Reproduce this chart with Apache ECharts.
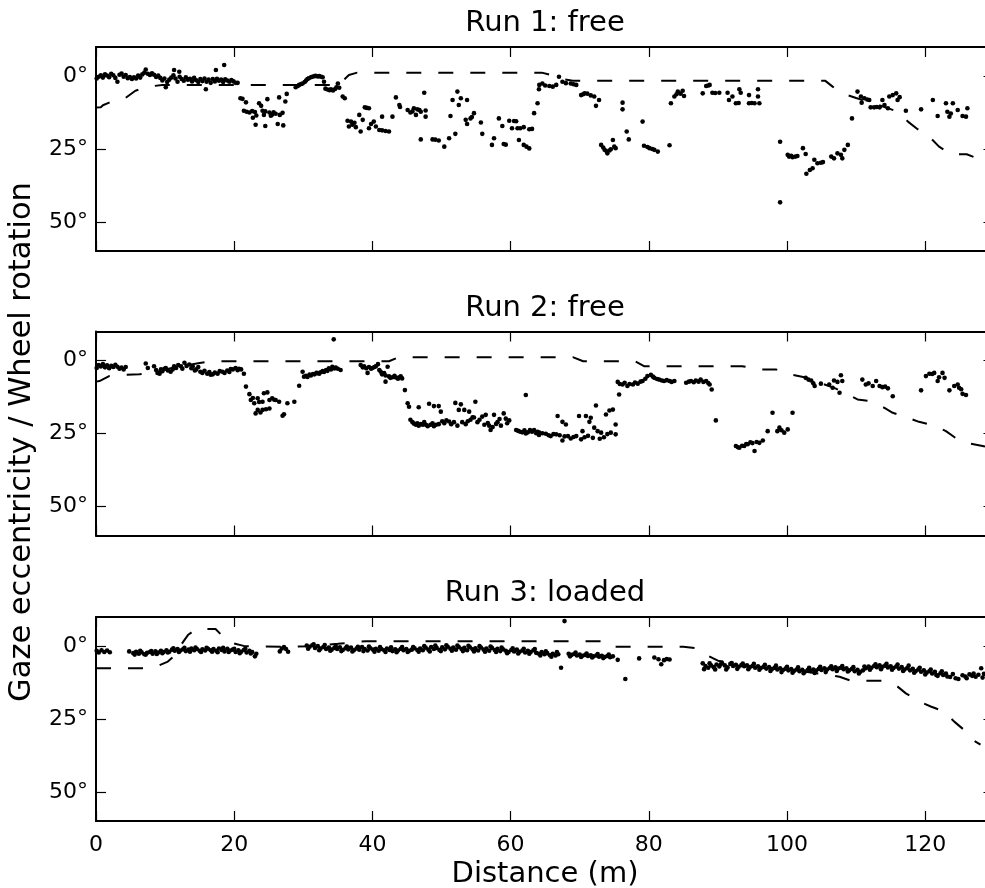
<!DOCTYPE html>
<html>
<head>
<meta charset="utf-8">
<script src="https://cdn.jsdelivr.net/npm/echarts/dist/echarts.min.js"></script>
<style>html,body{margin:0;padding:0;background:#fff;}#c{width:985px;height:888px;}</style>
</head>
<body>
<div id="c"></div>
<script>
const xTicks = [0, 20, 40, 60, 80, 100, 120];
const yTicks = [0, 25, 50];
const titles = ['Run 1: free', 'Run 2: free', 'Run 3: loaded'];
const xLabel = 'Distance (m)';
const yLabel = 'Gaze eccentricity / Wheel rotation';

// Run 1 gaze eccentricity (deg)
const gaze1 = [
[0.1,0.8],[0.4,0.2],[0.7,-0.3],[1.0,0.5],[1.3,-0.6],[1.6,-0.2],[1.9,0.4],[2.2,-0.8],[2.5,-0.3],[2.8,0.6],[3.1,1.9],[3.4,-0.5],[3.7,-0.9],[4.0,0.2],[4.3,-0.4],[4.6,0.7],[4.9,0.3],[5.2,1.0],[5.5,0.4],[5.8,0.8],[6.1,-0.2],[6.4,0.5],[6.7,-0.6],[7.0,-1.2],[7.2,-2.3],[7.5,-0.8],[7.8,-0.4],[8.1,-1.0],[8.4,-0.5],[8.7,0.3],[9.0,-0.2],[9.3,0.6],[9.6,1.5],[9.9,0.8],[10.1,3.8],[10.3,2.0],[10.6,1.2],[10.9,0.5],[11.2,-0.3],[11.3,-2.1],[11.5,0.8],[11.8,1.9],[12.05,-1.5],[12.1,0.2],[12.4,1.0],[12.7,1.6],[13.0,0.4],[13.3,1.2],[13.6,0.9],[13.9,1.8],[14.2,0.6],[14.5,1.4],[14.8,2.0],[15.1,1.0],[15.4,1.7],[15.7,0.8],[15.9,4.5],[16.0,1.9],[16.3,1.2],[16.6,2.3],[16.9,1.0],[17.2,1.8],[17.35,-2.1],[17.5,0.9],[17.8,1.6],[18.1,1.2],[18.4,2.0],[18.55,-3.8],[18.7,1.1],[19.0,1.5],[19.3,1.9],[19.6,1.3],[19.9,1.8],[20.2,2.3],[20.5,2.3],
[20.9,7.6],[21.2,7.8],[21.7,9.0],[21.4,11.9],[21.8,12.2],[22.2,12.5],[22.6,12.0],[23.0,12.3],[23.1,16.7],[23.6,9.3],[23.9,10.2],[24.1,11.9],[24.5,12.1],[24.5,17.1],[24.8,7.9],[25.1,12.5],[25.5,13.2],[25.7,12.4],[26.0,12.9],[26.3,16.4],[26.5,7.3],[26.6,13.3],[27.1,16.9],[27.0,12.6],[27.4,8.7],[27.6,6.1],[23.2,13.5],[24.3,13.3],[25.3,13.6],[22.7,14.3],
[28.9,3.8],[29.2,3.4],[29.4,3.0],[29.7,2.7],[29.9,2.5],[30.2,2.0],[30.4,1.5],[30.6,1.0],[30.8,0.7],[31.1,0.4],[31.3,0.2],[31.6,0.0],[31.8,-0.1],[32.1,0.1],[32.3,0.0],[32.6,0.2],[32.8,0.4],[33.0,1.9],[33.2,4.3],[33.5,4.6],[33.8,4.8],[34.0,4.5],[34.3,4.9],[34.6,4.4],[34.8,3.8],[35.0,2.5],[35.2,4.0],[35.7,7.0],[36.0,7.6],
[36.4,15.3],[36.6,17.3],[36.9,15.6],[37.1,16.7],[37.4,16.0],[37.6,17.5],[38.1,13.3],[38.3,19.0],[38.6,15.0],[38.9,10.7],[39.2,10.9],[39.5,11.0],[39.5,17.9],[39.8,16.4],[40.2,15.6],[40.5,17.3],[41.0,18.5],[41.4,18.6],[41.4,13.9],[41.9,18.8],[42.4,19.0],[42.9,13.9],[43.4,7.3],[43.9,9.9],[44.0,10.6],
[45.1,11.6],[45.5,12.5],[45.8,12.1],[46.0,11.0],[46.3,13.3],[46.5,11.4],[46.8,11.6],[47.0,12.2],[47.5,5.7],[47.7,11.8],[47.7,13.9],[47.0,21.7],[48.7,21.7],[49.1,21.8],[49.6,22.1],[50.4,24.2],[51.1,21.3],[52.0,19.8],[51.3,13.7],[51.6,8.2],[52.3,5.3],[52.5,9.9],[52.8,7.6],[53.7,8.2],[53.5,15.0],[53.7,16.4],[54.2,14.5],[54.4,14.0],[54.7,12.7],[55.7,15.9],[55.9,19.8],[57.3,23.6],[57.6,21.3],[58.3,14.5],[58.8,17.1],[59.0,23.3],[59.3,23.5],[59.8,15.3],[60.2,17.9],[60.5,15.4],[60.8,15.5],[61.0,17.9],[61.2,21.9],[61.4,17.9],[61.9,17.5],[61.9,23.6],[62.3,24.2],[62.7,18.2],[62.7,24.8],[63.1,18.1],[63.4,12.7],[63.9,9.3],[64.1,4.5],
[64.15,3.0],[64.6,2.5],[65.0,3.2],[65.6,3.4],[66.1,3.6],[66.6,3.0],[67.0,0.2],[67.5,1.9],[68.0,2.4],[68.7,2.5],[69.1,2.8],[69.5,3.0],[70.2,6.5],[70.5,6.2],[70.7,5.9],[71.1,6.0],[71.6,6.6],[72.1,7.0],[72.35,10.2],[72.8,8.2],[76.2,9.1],[76.2,11.4],
[73.1,23.6],[73.4,24.5],[73.6,25.3],[73.9,25.8],[74.0,26.5],[74.3,25.5],[74.5,25.1],[74.8,21.9],[75.0,24.2],[75.2,24.7],
[76.8,19.0],[77.1,21.7],[79.1,15.6],[79.3,23.9],[79.8,24.3],[80.1,24.7],[80.5,25.0],[80.8,25.3],[81.3,25.9],[83.0,23.7],
[83.2,9.3],[83.7,7.0],[84.0,6.2],[84.2,5.3],[84.6,6.0],[84.9,5.0],[85.1,6.8],
[87.8,5.9],[88.3,3.4],[88.6,3.2],[88.8,3.0],[89.2,5.7],[89.6,5.8],[90.2,5.7],[91.4,5.7],[91.6,8.2],[92.1,7.0],[92.6,9.3],[93.0,9.2],[93.1,4.5],[93.3,5.7],[94.5,6.5],[94.5,9.3],[94.9,9.2],[95.3,9.3],[95.8,4.5],[95.8,7.0],[96.0,9.3],
[99.0,22.5],[99.0,43.3],[100.1,27.0],[100.3,27.6],[100.6,27.3],[100.8,27.8],[101.2,27.6],[101.5,27.4],[102.3,24.7],[102.7,26.7],[102.8,33.5],[103.3,32.2],[103.7,31.6],[103.95,28.7],[104.4,29.9],[104.9,29.7],[105.2,29.5],[106.4,27.6],[106.8,28.2],[107.3,26.5],[107.8,27.0],[108.0,28.2],[108.3,25.3],[108.8,23.6],
[109.4,14.5],[110.2,5.3],[110.7,7.0],[110.8,9.1],[111.2,7.6],[111.6,8.0],[111.9,8.2],[112.1,10.7],[112.6,10.7],[113.0,10.6],[113.4,10.7],[113.8,8.2],[114.1,9.9],[114.6,11.0],[114.8,7.0],[115.3,6.5],[115.8,5.9],[116.0,8.2],[116.3,7.2],[117.2,11.9],[119.4,11.4],[121.1,8.2],[121.8,13.7],[123.0,9.3],[123.2,12.2],[123.5,13.9],[123.7,12.8],[124.0,9.3],[124.7,11.6],[125.4,13.7],[125.9,13.9],[126.1,11.0]
];
// Run 1 wheel rotation (deg)
const wheel1 = [[0,10.8],[0.7,10.7],[1.0,10.0],[1.9,9.1],[3.0,8.6],[4.2,7.6],[5.7,5.0],[7.0,4.0],[7.7,3.6],[9.6,3.0],[35.2,3.0],[36.0,1.0],[36.6,-0.4],[37.8,-1.2],[64.5,-1.2],[66.0,-0.3],[67.5,1.0],[69.0,1.55],[105.5,1.55],[106.6,3.6],[108.0,5.9],[110.0,7.5],[112.0,9.0],[114.0,10.5],[116.0,12.2],[117.5,15.6],[118.9,18.2],[120.8,21.3],[122.0,24.2],[123.8,26.8],[126.0,26.8],[127.3,28.0],[128.65,28.3]];

// Run 2 gaze eccentricity (deg)
const gaze2 = [
[0.1,2.5],[0.4,1.5],[0.7,2.0],[1.0,1.2],[1.3,2.3],[1.6,1.6],[1.9,2.6],[2.2,1.8],[2.5,2.2],[2.8,1.4],[3.1,2.1],[3.4,2.8],[3.7,2.4],[4.0,3.0],[4.3,2.2],[7.2,1.0],[7.5,2.5],[8.4,1.9],[8.7,3.2],[8.9,4.2],[9.2,4.5],[9.4,3.0],[9.6,3.6],[9.9,2.8],[10.1,2.5],[10.4,3.4],[10.8,3.8],[11.1,3.0],[11.3,1.9],[11.6,2.5],[11.9,1.5],[12.3,1.9],[12.5,2.8],[12.8,0.7],[13.1,1.8],[13.5,1.3],[13.8,2.6],[14.0,1.9],[14.3,3.4],[14.5,3.0],[14.8,2.2],[15.1,3.8],[15.4,4.2],[15.7,3.5],[16.1,4.5],[16.4,3.9],[16.6,4.8],[16.9,4.7],[17.2,4.1],[17.6,4.5],[17.9,3.6],[18.3,3.8],[18.6,4.2],[19.0,3.4],[19.3,3.9],[19.5,2.9],[19.8,3.0],[20.2,2.5],[20.5,3.3],[20.7,2.8],[21.0,3.0],[21.4,4.5],
[21.7,8.9],[22.2,11.5],[22.4,13.5],[22.7,12.8],[22.9,14.6],[23.1,18.1],[23.4,12.9],[23.4,16.9],[23.6,14.2],[23.8,17.8],[24.1,14.1],[24.1,16.9],[24.3,11.2],[24.6,16.7],[24.8,10.9],[25.1,13.5],[25.1,16.4],[25.5,12.9],[25.8,13.4],[26.0,13.5],[26.5,14.1],[27.0,18.9],[27.2,18.4],[27.7,14.6],[28.7,14.1],[29.4,8.6],
[29.9,3.8],[30.1,5.5],[30.4,5.2],[30.6,5.6],[30.9,4.8],[31.1,5.1],[31.4,4.6],[31.6,4.7],[31.9,4.2],[32.0,4.3],[32.3,4.5],[32.5,4.0],[32.8,3.6],[33.0,3.9],[33.3,3.2],[33.5,3.5],[33.7,2.6],[34.0,3.0],[34.2,2.1],[34.4,-7.3],[34.5,2.7],[34.7,2.4],[35.0,2.8],[35.4,3.2],
[38.3,1.5],[38.6,2.3],[38.8,1.9],[39.1,2.6],[39.3,4.2],[39.5,2.2],[39.8,2.8],[40.0,2.5],[40.3,2.2],[40.5,1.9],[40.8,1.2],[41.0,3.2],[41.2,3.8],[41.4,4.7],[41.7,4.3],[41.9,5.1],[41.9,7.2],[42.2,2.1],[42.4,5.4],[42.6,5.9],[42.9,5.7],[43.2,5.2],[43.4,5.8],[43.7,6.2],[43.9,5.7],[44.1,5.4],[44.3,6.1],
[44.7,10.1],[45.1,14.6],[45.3,15.8],[45.5,20.3],[45.8,21.1],[46.0,21.6],[46.3,22.0],[46.5,21.5],[46.7,22.3],[46.7,16.0],[47.0,21.8],[47.3,22.0],[47.5,21.1],[47.8,22.1],[48.0,22.5],[48.2,14.8],[48.4,22.0],[48.7,21.5],[48.9,22.5],[48.9,15.6],[49.2,22.0],[49.6,21.8],[49.6,15.6],[49.9,17.5],[50.1,20.8],[50.4,21.5],[50.7,20.5],[51.1,20.9],[51.4,21.8],[51.8,21.1],[52.0,14.5],[52.3,22.3],[52.5,16.9],[52.8,15.0],[53.0,21.1],[53.3,16.9],[53.5,21.8],[53.8,20.8],[54.0,17.5],[54.2,20.3],[54.5,19.4],[54.7,19.5],[54.9,14.1],[55.2,21.1],[55.5,20.3],[55.9,19.2],[56.2,22.0],[56.4,18.6],[56.7,21.4],[56.9,22.3],[57.1,23.8],[57.4,22.8],[57.6,18.6],[57.9,21.7],[58.1,21.1],[58.4,20.0],[58.6,22.3],[59.0,18.1],[59.3,19.9],[59.5,21.5],[59.8,20.5],[60.8,23.8],[61.1,24.1],[61.4,24.4],[61.7,24.6],[62.0,23.9],[62.2,25.0],[62.2,11.8],[62.5,24.6],[62.8,23.8],[63.1,24.4],[63.4,23.8],[63.7,24.9],[63.9,24.4],[64.1,25.5],
[64.15,24.7],[64.6,24.9],[65.1,25.1],[65.5,25.6],[65.8,25.9],[66.2,25.2],[66.6,25.3],[66.8,19.0],[67.1,25.6],[67.5,21.0],[67.5,27.4],[67.8,26.0],[68.0,21.9],[68.3,25.9],[68.7,26.7],[69.1,26.2],[69.5,25.9],[69.9,19.0],[70.2,27.0],[70.4,24.2],[70.7,26.3],[70.9,19.0],[71.2,25.8],[71.4,21.0],[71.6,19.6],[71.9,26.5],[72.1,23.0],[72.35,15.4],[72.6,24.2],[72.9,26.8],[73.1,24.7],[73.5,26.3],[73.8,18.5],[74.0,25.2],[74.3,17.1],[74.5,24.7],[74.8,16.8],[75.2,21.9],[75.2,25.3],[75.7,11.6],
[75.5,7.3],[75.8,8.0],[76.2,8.2],[76.5,7.6],[76.9,8.7],[77.2,8.0],[77.7,8.2],[78.0,7.5],[78.4,7.9],[78.8,7.2],[79.1,7.0],[79.5,6.2],[79.8,5.3],[80.3,4.9],[80.6,5.5],[80.8,5.9],[81.2,6.3],[81.5,6.5],[81.9,6.8],[82.2,7.0],[82.6,6.7],[83.0,7.0],[83.3,7.3],[83.7,7.0],[85.4,7.6],[85.8,7.2],[86.1,7.0],[86.5,7.4],[86.8,6.8],[87.2,7.2],[87.5,6.5],[87.9,7.3],[88.3,7.0],[88.6,7.7],[88.8,8.2],[89.1,9.9],[89.7,20.5],
[92.6,29.3],[92.9,29.7],[93.1,29.9],[93.5,29.2],[93.8,29.3],[94.1,28.6],[94.3,28.7],[94.7,28.0],[95.0,28.3],[95.3,31.0],[95.6,27.9],[96.0,28.2],[96.5,27.4],[97.2,24.2],[97.9,17.9],[98.6,24.2],[98.9,23.0],[99.2,23.9],[99.6,24.7],[100.1,23.6],[100.8,17.9],
[102.7,5.9],[103.1,6.5],[103.5,6.8],[103.8,7.8],[104.0,8.7],[104.9,7.9],[106.1,8.2],[106.6,9.3],[106.8,6.8],[107.3,7.3],[107.6,11.0],[107.8,5.0],[108.0,7.0],
[110.9,6.5],[111.4,8.2],[111.8,7.8],[112.4,8.7],[112.9,7.0],[113.4,8.7],[113.8,9.1],[114.2,8.9],[114.6,9.5],[115.3,12.2],
[119.4,10.2],[120.1,5.3],[120.6,4.5],[121.0,4.6],[121.3,4.2],[121.8,7.0],[122.0,5.7],[122.5,4.2],[122.8,5.9],[123.5,10.2],[124.2,8.7],[124.7,8.2],[124.9,9.3],[125.2,9.8],[125.4,11.4],[125.9,11.8]
];
// Run 2 wheel rotation (deg)
const wheel2 = [[0,7.2],[0.5,7.0],[1.9,5.3],[3.5,4.9],[6.3,4.7],[9.0,3.6],[12.0,2.0],[15.0,0.8],[16.6,0.2],[42.4,0.2],[43.8,-1.2],[69.0,-1.2],[70.5,0.2],[78.0,0.2],[79.3,1.9],[93.5,1.9],[96.0,3.0],[98.4,3.0],[100.1,4.5],[102.5,5.7],[104.0,7.0],[107.0,9.5],[110.2,13.3],[112.0,13.9],[114.1,16.2],[115.3,17.9],[117.5,19.6],[119.1,21.0],[121.6,22.5],[123.0,24.2],[124.9,27.4],[126.0,28.2],[128.3,29.3],[128.65,29.5]];

// Run 3 gaze eccentricity (deg)
const gaze3 = [
[0.1,1.6],[0.4,2.2],[0.8,1.4],[1.2,2.0],[1.6,1.5],[2.0,2.1],[4.8,1.8],
[5.4,2.4],[5.8,1.9],[6.2,2.6],[6.6,2.1],[7.0,2.8],[7.4,2.3],[7.8,2.0],[8.2,2.6],[8.6,1.8],[9.0,2.2],[9.4,1.6],[9.8,2.0],[10.2,1.4],[10.6,1.9],[11.0,1.2],[11.4,1.6],[11.8,1.0],[12.2,1.5],[12.6,1.1],[13.0,1.7],[13.4,1.2],[13.8,0.8],[14.2,1.4],[14.6,1.0],[15.0,1.6],[15.4,1.1],[15.8,1.5],[16.2,0.9],[16.6,1.4],[17.0,1.0],[17.4,1.6],[17.8,0.8],[18.2,1.3],[18.6,1.8],[19.0,0.9],[19.4,1.5],[19.8,1.2],[20.2,2.0],[20.6,1.4],[21.0,1.9],[21.4,1.3],[21.8,2.2],[22.2,1.6],[22.6,2.0],[23.0,3.5],[23.2,2.6],
[5.6,2.9],[6.4,1.6],[7.2,2.9],[8.0,1.7],[8.8,2.7],[9.6,2.4],[10.4,2.2],[11.2,0.7],[12.0,2.0],[12.8,0.6],[13.6,1.9],[14.4,0.5],[15.2,2.0],[16.0,0.6],[16.8,1.9],[17.6,2.1],[18.4,0.6],[19.2,2.0],[20.0,0.9],[20.8,2.4],[21.6,0.9],[22.4,2.5],
[26.6,1.8],[26.9,0.8],[27.2,0.3],[27.5,1.0],[27.8,1.9],
[30.5,-0.2],[30.9,0.2],[31.3,-0.3],[31.7,0.6],[32.1,0.0],[32.5,0.8],[32.9,0.3],[33.3,1.0],[33.7,0.5],[34.1,1.2],[34.5,0.6],[34.9,1.0],[35.3,0.4],[35.7,1.3],[36.1,0.7],[36.5,1.1],[36.9,0.5],[37.3,1.4],[37.7,0.8],[38.1,1.2],[38.5,0.3],[38.9,1.0],[39.3,1.5],[39.7,0.7],[40.1,1.2],[40.5,0.9],[40.9,1.6],[41.3,1.0],[41.7,1.4],[42.1,0.8],[42.5,1.3],[42.9,1.7],[43.3,1.1],[43.7,1.5],[44.1,0.9],[44.5,1.4],[44.9,1.0],[45.3,1.6],[45.7,1.2],[46.1,0.7],[46.5,1.3],[46.9,0.8],[47.3,1.4],[47.7,0.5],[48.1,1.2],[48.5,0.3],[48.9,1.0],[49.3,0.6],[49.7,1.3],[50.1,0.4],[50.5,1.1],[50.9,0.2],[51.3,0.9],[51.7,0.5],[52.1,1.2],[52.5,0.3],[52.9,1.0],[53.3,0.6],[53.7,1.4],[54.1,0.4],[54.5,1.1],[54.9,0.7],[55.3,1.5],[55.7,0.5],[56.1,1.2],[56.5,0.8],[56.9,1.6],[57.3,0.6],[57.7,1.3],[58.1,0.9],[58.5,1.7],[58.9,1.1],[59.3,1.6],[59.7,2.0],[60.1,1.3],[60.5,1.8],[60.9,1.2],[61.3,1.9],[61.7,1.5],[62.1,2.2],[62.5,1.6],[62.9,2.0],[63.3,1.4],[63.7,2.3],[64.1,2.6],[64.5,2.0],[64.9,2.8],[65.3,2.4],[65.7,3.1],[66.1,2.6],[66.5,3.2],[66.9,2.8],[67.3,7.4],[67.8,-8.6],
[30.7,0.9],[31.5,-0.6],[32.3,1.4],[33.1,-0.4],[33.9,1.6],[34.7,0.0],[35.5,1.7],[36.3,0.1],[37.1,1.8],[37.9,0.2],[38.7,1.7],[39.5,0.1],[40.3,1.9],[41.1,0.3],[41.9,2.0],[42.7,0.4],[43.5,2.1],[44.3,0.3],[45.1,2.0],[45.9,0.3],[46.7,1.9],[47.5,0.0],[48.3,1.8],[49.1,-0.2],[49.9,1.7],[50.7,-0.3],[51.5,1.6],[52.3,-0.2],[53.1,1.7],[53.9,-0.1],[54.7,1.8],[55.5,0.0],[56.3,1.9],[57.1,0.1],[57.9,2.0],[58.7,0.5],[59.5,2.4],[60.3,0.7],[61.1,2.5],[61.9,0.9],[62.7,2.6],[63.5,1.0],[64.3,3.2],[65.1,1.8],[65.9,3.6],[66.7,2.0],
[68.4,2.6],[68.8,3.0],[69.2,2.7],[69.6,3.2],[70.0,2.9],[70.4,3.3],[70.8,3.0],[71.2,3.4],[71.6,3.1],[72.0,3.5],[72.4,3.2],[72.8,3.6],[73.2,3.3],[73.6,3.7],[74.0,3.4],[74.4,3.8],[74.8,3.5],[75.5,4.7],[76.6,11.3],[78.6,4.2],[80.8,3.9],[81.4,4.5],[81.8,6.2],[82.2,4.8],[82.6,4.4],[83.0,4.6],
[68.6,3.5],[69.4,2.2],[70.2,3.7],[71.0,2.5],[71.8,3.9],[72.6,2.7],[73.4,4.1],[74.2,2.9],
[87.8,5.9],[88.2,6.8],[88.6,7.4],[89.0,6.6],[89.4,7.2],[89.8,6.3],[90.2,7.0],[90.6,5.8],[91.0,6.6],[91.4,7.3],[91.8,6.1],[92.2,6.8],[92.6,6.4],[93.0,7.1],[93.4,6.5],[93.8,6.9],[94.2,6.6],[94.6,7.2],[95.0,6.8],[95.4,7.4],[95.8,6.9],[96.2,7.5],[96.6,7.1],[97.0,7.7],[97.4,7.2],[97.8,7.9],[98.2,7.4],[98.6,8.0],[99.0,7.6],[99.4,8.2],[99.8,7.7],[100.2,8.3],[100.6,7.9],[101.0,8.5],[101.4,8.0],[101.8,8.6],[102.2,8.1],[102.6,8.7],[103.0,8.2],[103.4,8.5],[103.8,8.0],[104.2,8.4],[104.6,7.8],[105.0,8.2],[105.4,7.6],[105.8,8.0],[106.2,7.5],[106.6,7.9],[107.0,7.3],[107.4,7.7],[107.8,7.4],[108.2,7.9],[108.6,7.6],[109.0,8.3],[109.4,7.8],[109.8,8.6],[110.2,8.1],[110.6,8.8],[111.0,8.3],[111.4,7.6],[111.8,7.0],[112.2,7.4],[112.6,6.8],[113.0,7.2],[113.4,6.6],[113.8,7.1],[114.2,6.7],[114.6,7.3],[115.0,6.9],[115.4,7.5],[115.8,7.0],[116.2,7.7],[116.6,7.2],[117.0,8.0],[117.4,7.5],[117.8,8.3],[118.2,7.8],[118.6,8.6],[119.0,8.0],[119.4,8.8],[119.8,8.3],[120.2,9.1],[120.6,8.6],[121.0,9.4],[121.4,8.8],[121.8,10.2],[122.2,9.3],[122.6,9.9],[123.0,9.4],[123.6,10.6],[124.4,11.0],[125.8,10.4],[126.4,9.7],[126.8,10.2],[127.3,10.5],[127.7,9.8],[128.1,7.6],[128.5,9.5],
[88.0,7.9],[88.8,5.9],[89.6,8.0],[90.4,6.2],[91.2,8.0],[92.0,5.8],[92.8,7.8],[93.6,6.0],[94.4,7.9],[95.2,6.1],[96.0,8.1],[96.8,6.4],[97.6,8.5],[98.4,6.7],[99.2,8.9],[100.0,7.1],[100.8,9.1],[101.6,7.3],[102.4,9.3],[103.2,7.4],[104.0,9.2],[104.8,7.1],[105.6,8.9],[106.4,6.9],[107.2,8.5],[108.0,6.8],[108.8,8.7],[109.6,7.2],[110.4,9.4],[111.2,7.0],[112.0,8.1],[112.8,6.2],[113.6,7.9],[114.4,6.1],[115.2,8.1],[116.0,6.3],[116.8,8.5],[117.6,6.7],[118.4,9.1],[119.2,7.4],[120.0,9.7],[120.8,8.0],[121.6,9.9],[122.4,8.6],[123.2,10.4],[124.0,9.6],[124.8,11.3],[125.4,10.0],[126.0,11.0],[127.0,9.4],[128.3,10.8]
];
// Run 3 wheel rotation (deg)
const wheel3 = [[0,7.6],[7.0,7.6],[9.2,6.5],[10.4,5.3],[11.5,3.0],[12.3,-0.4],[13.3,-3.8],[14.5,-5.9],[17.3,-5.9],[18.5,-3.0],[19.8,-1.0],[21.5,0.0],[27.0,0.2],[31.0,0.0],[35.0,-0.8],[39.0,-1.7],[73.5,-1.7],[74.5,0.2],[85.0,0.2],[86.8,0.7],[88.3,3.0],[90.0,5.0],[95.0,7.0],[100.0,8.0],[105.0,9.5],[107.6,10.5],[109.3,11.9],[113.8,11.9],[116.0,13.9],[117.2,16.2],[119.4,19.3],[120.8,20.7],[122.8,22.5],[124.2,25.9],[125.9,29.3],[127.1,32.5],[128.0,33.8]];

const gazeSets = [gaze1, gaze2, gaze3];
const wheelSets = [wheel1, wheel2, wheel3];

const FONT = 'DejaVu Sans';
const tops = [47, 331.5, 617];
const titleTops = [9, 294, 579];
const gridLeft = 96, gridWidth = 889, gridHeight = 204;
const xMax = 128.65;

const grid = [], xAxis = [], yAxis = [], series = [], title = [];
const spine = {show: true, onZero: false, lineStyle: {color: '#000', width: 2}};
const tickStyle = {inside: true, length: 10, lineStyle: {color: '#000', width: 1.2}};

tops.forEach((t, i) => {
  grid.push({left: gridLeft, top: t, width: gridWidth, height: gridHeight, show: false});
  ['bottom', 'top'].forEach(pos => {
    xAxis.push({gridIndex: i, type: 'value', min: 0, max: xMax, position: pos,
      axisLine: spine,
      axisTick: Object.assign({customValues: xTicks}, tickStyle),
      axisLabel: {show: pos === 'bottom' && i === 2, customValues: xTicks, fontSize: 22,
        color: '#000', fontFamily: FONT, margin: 13},
      splitLine: {show: false}});
  });
  ['left', 'right'].forEach(pos => {
    yAxis.push({gridIndex: i, type: 'value', min: -10, max: 60, inverse: true, position: pos,
      axisLine: pos === 'left' ? spine : {show: false, onZero: false},
      axisTick: {customValues: yTicks, inside: true, length: pos === 'left' ? 10 : 1.5,
        lineStyle: {color: '#000', width: 1.2}},
      axisLabel: {show: pos === 'left', customValues: yTicks, fontSize: 22, color: '#000',
        fontFamily: FONT, margin: 8, formatter: v => v + '°'},
      splitLine: {show: false}});
  });
  series.push({type: 'scatter', xAxisIndex: 2 * i, yAxisIndex: 2 * i, data: gazeSets[i],
    symbol: 'circle', symbolSize: 4.6, itemStyle: {color: '#000', opacity: 1}, clip: true, silent: true});
  series.push({type: 'line', xAxisIndex: 2 * i, yAxisIndex: 2 * i, data: wheelSets[i],
    showSymbol: false, symbol: 'none', clip: true, silent: true,
    lineStyle: {color: '#000', width: 2, type: [15, 17]}});
  title.push({text: titles[i], left: 545, top: titleTops[i], textAlign: 'center',
    padding: 0, textStyle: {fontSize: 29, fontWeight: 'normal', color: '#000', fontFamily: FONT}});
});
title.push({text: xLabel, left: 545, top: 860, textAlign: 'center', padding: 0,
  textStyle: {fontSize: 29, fontWeight: 'normal', color: '#000', fontFamily: FONT}});

const chart = echarts.init(document.getElementById('c'), null, {renderer: 'canvas'});
chart.setOption({
  animation: false,
  backgroundColor: '#fff',
  title: title,
  grid: grid,
  xAxis: xAxis,
  yAxis: yAxis,
  series: series,
  graphic: [{type: 'text', x: 22, y: 442, rotation: Math.PI / 2,
    style: {text: yLabel, fontSize: 30.5, fontFamily: FONT, fill: '#000', align: 'center', verticalAlign: 'middle'}}]
});
</script>
</body>
</html>
